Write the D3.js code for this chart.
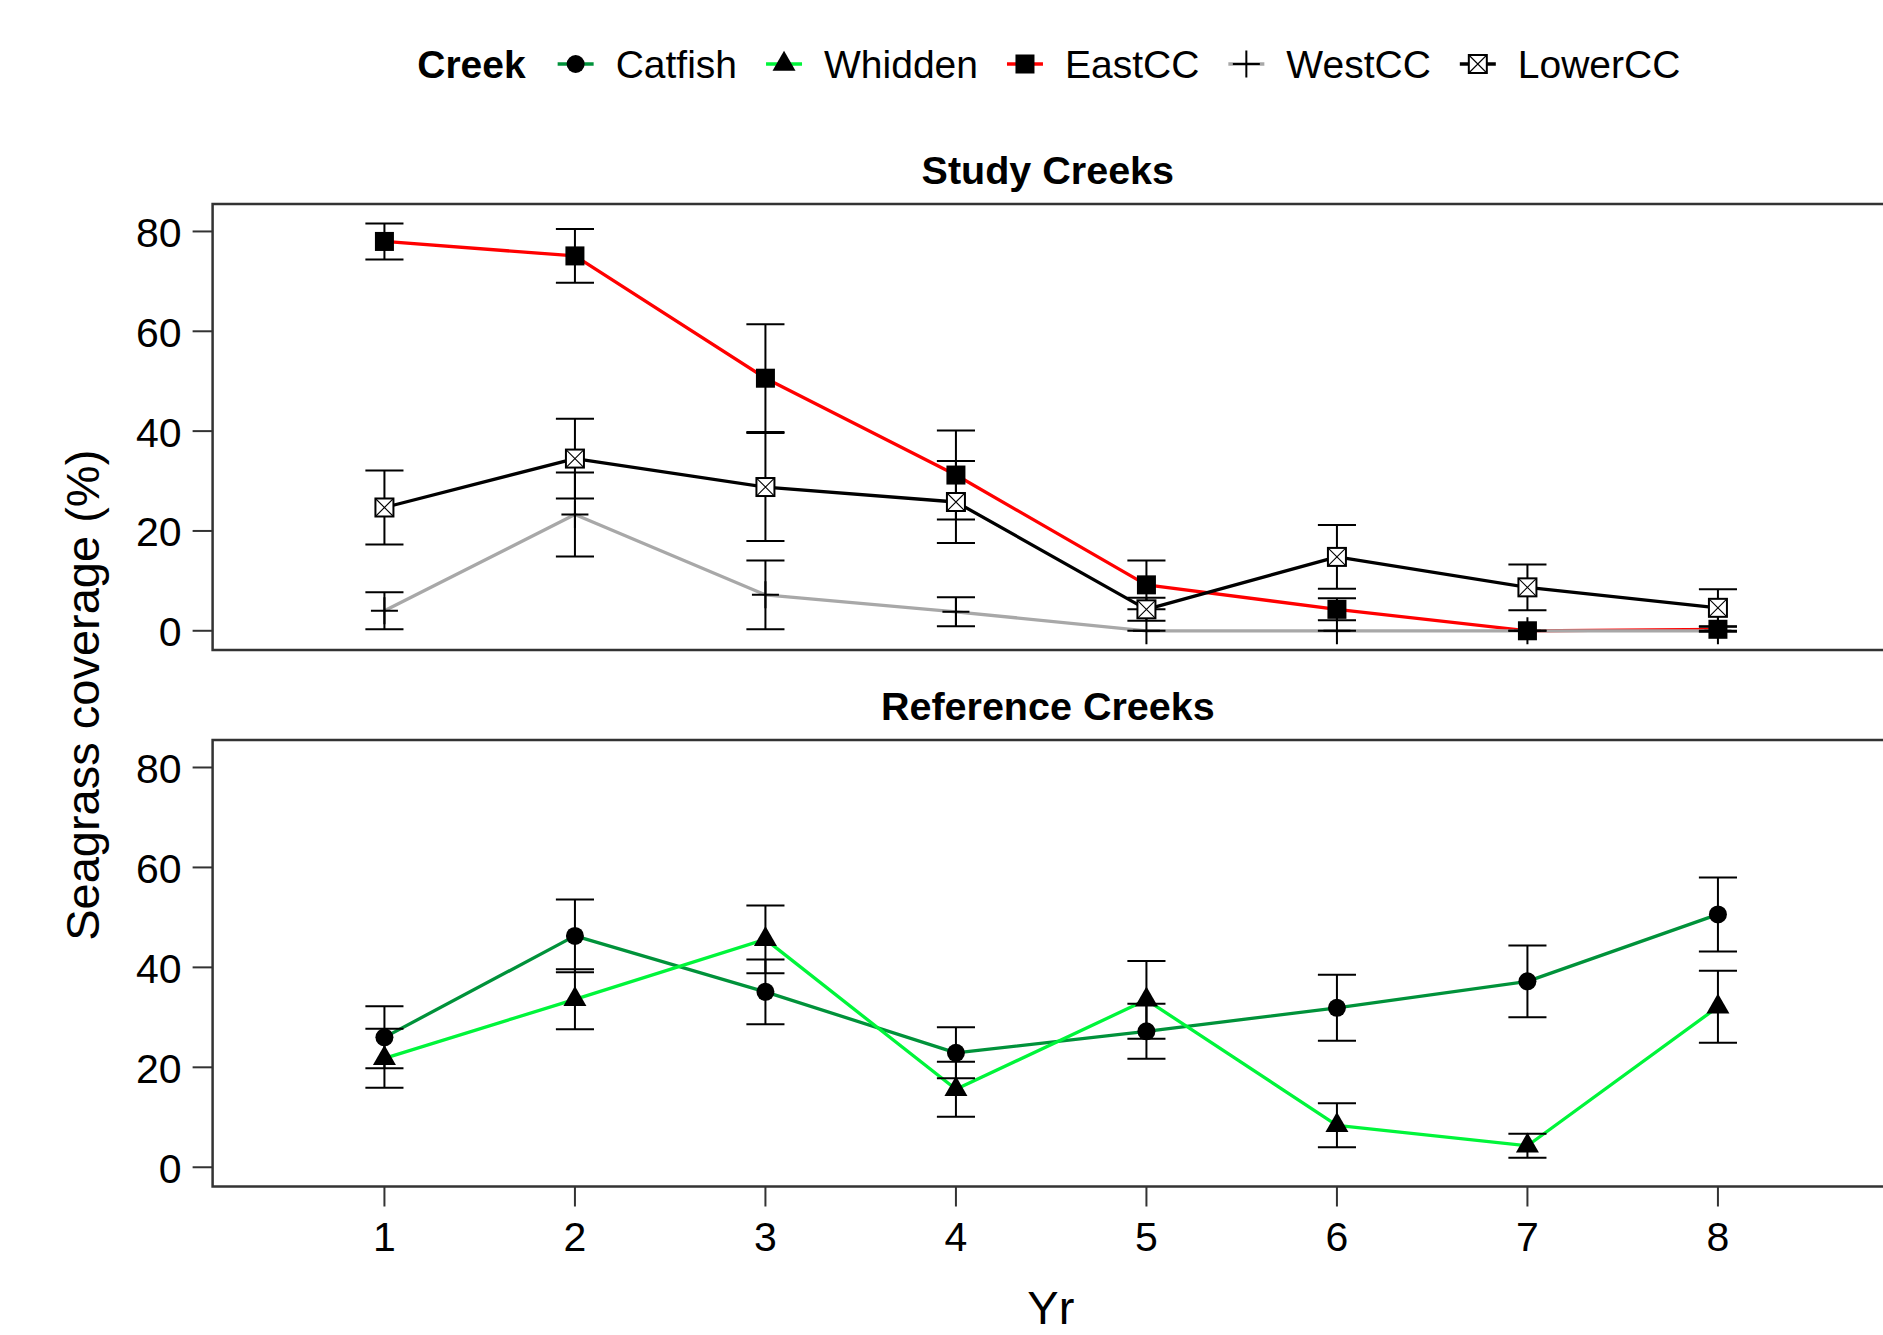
<!DOCTYPE html>
<html>
<head>
<meta charset="utf-8">
<script src="https://cdn.jsdelivr.net/npm/d3@7"></script>
<style>
  body { margin: 0; background: #fff; }
  svg text { font-family: "Liberation Sans", Arial, sans-serif; fill: #000; }
</style>
</head>
<body>
<svg id="chart" width="1883" height="1335"></svg>
<script>
// ---- data ----
const years = [1, 2, 3, 4, 5, 6, 7, 8];
const creeks = ["Catfish", "Whidden", "EastCC", "WestCC", "LowerCC"];
const panelTitles = ["Study Creeks", "Reference Creeks"];
const yTickValues = [0, 20, 40, 60, 80];
const yTickLabels = [" 0", "20", "40", "60", "80"];
const xTickLabels = ["1", "2", "3", "4", "5", "6", "7", "8"];

// mean seagrass coverage (%) and standard error per year
const catfishMean = [26.0, 46.3, 35.1, 22.9, 27.2, 31.9, 37.2, 50.6];
const catfishSE   = [6.2, 7.3, 6.5, 5.1, 5.5, 6.6, 7.2, 7.4];
const whiddenMean = [21.8, 33.6, 45.6, 15.6, 33.5, 8.4, 4.3, 32.1];
const whiddenSE   = [5.9, 6.0, 6.8, 5.5, 7.8, 4.4, 2.4, 7.2];
const eastMean    = [78.0, 75.1, 50.6, 31.2, 9.2, 4.3, 0.0, 0.3];
const eastSE      = [3.6, 5.4, 10.8, 8.9, 4.9, 2.2, 0.0, 0.5];
const westMean    = [4.0, 23.3, 7.2, 3.8, 0.0, 0.0, 0.0, 0.0];
const westSE      = [3.7, 8.4, 6.9, 2.9, 0.0, 0.0, 0.0, 0.0];
const lowerMean   = [24.7, 34.5, 28.8, 25.8, 4.3, 14.8, 8.7, 4.6];
const lowerSE     = [7.4, 8.0, 10.8, 8.2, 2.3, 6.4, 4.6, 3.7];

// ---- series styling ----
const series = [
  { name: "Catfish", panel: 1, color: "#00923A", shape: "circle",   mean: catfishMean, se: catfishSE },
  { name: "Whidden", panel: 1, color: "#00F53A", shape: "triangle", mean: whiddenMean, se: whiddenSE },
  { name: "EastCC",  panel: 0, color: "#FF0000", shape: "square",   mean: eastMean,    se: eastSE },
  { name: "WestCC",  panel: 0, color: "#A8A8A8", shape: "plus",     mean: westMean,    se: westSE },
  { name: "LowerCC", panel: 0, color: "#000000", shape: "sqcross",  mean: lowerMean,   se: lowerSE }
];

// ---- layout ----
const W = 1883, H = 1335;
const plotLeft = 212.6, plotRight = 1885;
const panels = [
  { top: 204, bottom: 650 },
  { top: 740, bottom: 1186.5 }
];
const borderColor = "#333333";
const tickLen = 20;

const svg = d3.select("#chart");

const x = d3.scaleLinear().domain([0.098, 8.877]).range([plotLeft, plotRight]);
const yScales = panels.map(p =>
  d3.scaleLinear().domain([-3.85, 85.5]).range([p.bottom, p.top]));

// marker drawing
function drawMarker(g, shape, cx, cy) {
  if (shape === "circle") {
    g.append("circle").attr("cx", cx).attr("cy", cy).attr("r", 9).attr("fill", "#000");
  } else if (shape === "triangle") {
    const w = 23, h = 20;
    g.append("path")
      .attr("d", `M${cx},${cy - 2 * h / 3}L${cx + w / 2},${cy + h / 3}L${cx - w / 2},${cy + h / 3}Z`)
      .attr("fill", "#000");
  } else if (shape === "square") {
    const s = 19;
    g.append("rect").attr("x", cx - s / 2).attr("y", cy - s / 2)
      .attr("width", s).attr("height", s).attr("fill", "#000");
  } else if (shape === "plus") {
    const a = 13.5;
    g.append("path")
      .attr("d", `M${cx - a},${cy}H${cx + a}M${cx},${cy - a}V${cy + a}`)
      .attr("stroke", "#000").attr("stroke-width", 2).attr("fill", "none");
  } else if (shape === "sqcross") {
    const s = 18;
    g.append("rect").attr("x", cx - s / 2).attr("y", cy - s / 2)
      .attr("width", s).attr("height", s)
      .attr("fill", "#fff").attr("stroke", "#000").attr("stroke-width", 2);
    g.append("path")
      .attr("d", `M${cx - s / 2},${cy - s / 2}L${cx + s / 2},${cy + s / 2}M${cx + s / 2},${cy - s / 2}L${cx - s / 2},${cy + s / 2}`)
      .attr("stroke", "#000").attr("stroke-width", 1.1).attr("fill", "none");
  }
}

// ---- panels ----
panels.forEach((p, pi) => {
  const y = yScales[pi];
  const g = svg.append("g");

  // panel title
  g.append("text")
    .attr("x", (plotLeft + plotRight) / 2 - 1)
    .attr("y", p.top - 20)
    .attr("text-anchor", "middle")
    .attr("font-size", 39.5)
    .attr("font-weight", "bold")
    .text(panelTitles[pi]);

  // y axis ticks and labels
  const yAxis = g.append("g");
  yTickValues.forEach((v, i) => {
    yAxis.append("line")
      .attr("x1", plotLeft - tickLen).attr("x2", plotLeft)
      .attr("y1", y(v)).attr("y2", y(v))
      .attr("stroke", borderColor).attr("stroke-width", 2);
    yAxis.append("text")
      .attr("x", plotLeft - 31).attr("y", y(v) + 15.5)
      .attr("text-anchor", "end")
      .attr("font-size", 41)
      .attr("xml:space", "preserve")
      .style("white-space", "pre")
      .text(yTickLabels[i]);
  });

  const clipId = "clip" + pi;
  svg.append("clipPath").attr("id", clipId)
    .append("rect").attr("x", plotLeft).attr("y", p.top)
    .attr("width", plotRight - plotLeft).attr("height", p.bottom - p.top);

  const marks = g.append("g").attr("clip-path", `url(#${clipId})`);
  const inPanel = series.filter(s => s.panel === pi);

  // lines
  const line = d3.line().x((d, i) => x(years[i])).y(d => y(d));
  inPanel.forEach(s => {
    marks.append("path")
      .attr("d", line(s.mean))
      .attr("fill", "none")
      .attr("stroke", s.color)
      .attr("stroke-width", 3.3)
      .attr("stroke-linejoin", "round");
  });

  // error bars
  const capHalf = (x(1.1) - x(1.0));
  inPanel.forEach(s => {
    s.mean.forEach((m, i) => {
      const cx = x(years[i]);
      const lo = y(m - s.se[i]), hi = y(m + s.se[i]);
      marks.append("path")
        .attr("d", `M${cx - capHalf},${hi}H${cx + capHalf}M${cx},${hi}V${lo}M${cx - capHalf},${lo}H${cx + capHalf}`)
        .attr("stroke", "#000").attr("stroke-width", 2).attr("fill", "none");
    });
  });

  // points
  inPanel.forEach(s => {
    s.mean.forEach((m, i) => drawMarker(marks, s.shape, x(years[i]), y(m)));
  });

  // panel border
  g.append("rect")
    .attr("x", plotLeft).attr("y", p.top)
    .attr("width", plotRight - plotLeft).attr("height", p.bottom - p.top)
    .attr("fill", "none").attr("stroke", borderColor).attr("stroke-width", 2.5);
});

// ---- x axis (bottom panel only) ----
const xAxis = svg.append("g");
const bottomEdge = panels[1].bottom;
years.forEach((yr, i) => {
  xAxis.append("line")
    .attr("x1", x(yr)).attr("x2", x(yr))
    .attr("y1", bottomEdge).attr("y2", bottomEdge + tickLen)
    .attr("stroke", borderColor).attr("stroke-width", 2);
  xAxis.append("text")
    .attr("x", x(yr)).attr("y", bottomEdge + 64)
    .attr("text-anchor", "middle")
    .attr("font-size", 41)
    .text(xTickLabels[i]);
});

// ---- axis titles ----
svg.append("text")
  .attr("x", (plotLeft + plotRight) / 2 + 2)
  .attr("y", 1324)
  .attr("text-anchor", "middle")
  .attr("font-size", 47)
  .text("Yr");

svg.append("text")
  .attr("transform", `translate(99,${(panels[0].top + panels[1].bottom) / 2}) rotate(-90)`)
  .attr("text-anchor", "middle")
  .attr("font-size", 47)
  .text("Seagrass coverage (%)");

// ---- legend ----
const legend = svg.append("g");
const legendBaseline = 78;
const legendTitle = legend.append("text")
  .attr("x", 0).attr("y", legendBaseline)
  .attr("font-size", 39).attr("font-weight", "bold")
  .text("Creek");
let cursor = legendTitle.node().getComputedTextLength();
const keyCenterGap = 50, textGap = 40, itemGap = 47;
creeks.forEach((name, i) => {
  const s = series.find(d => d.name === name);
  const kc = cursor + (i === 0 ? keyCenterGap : itemGap);
  const cy = legendBaseline - 14;
  legend.append("line")
    .attr("x1", kc - 18).attr("x2", kc + 18)
    .attr("y1", cy).attr("y2", cy)
    .attr("stroke", s.color).attr("stroke-width", 3.3);
  drawMarker(legend, s.shape, kc, cy);
  const t = legend.append("text")
    .attr("x", kc + textGap).attr("y", legendBaseline)
    .attr("font-size", 39)
    .text(name);
  cursor = kc + textGap + t.node().getComputedTextLength();
});
const legendCenter = (plotLeft + plotRight) / 2;
legend.attr("transform", `translate(${legendCenter - cursor / 2},0)`);
</script>
</body>
</html>
